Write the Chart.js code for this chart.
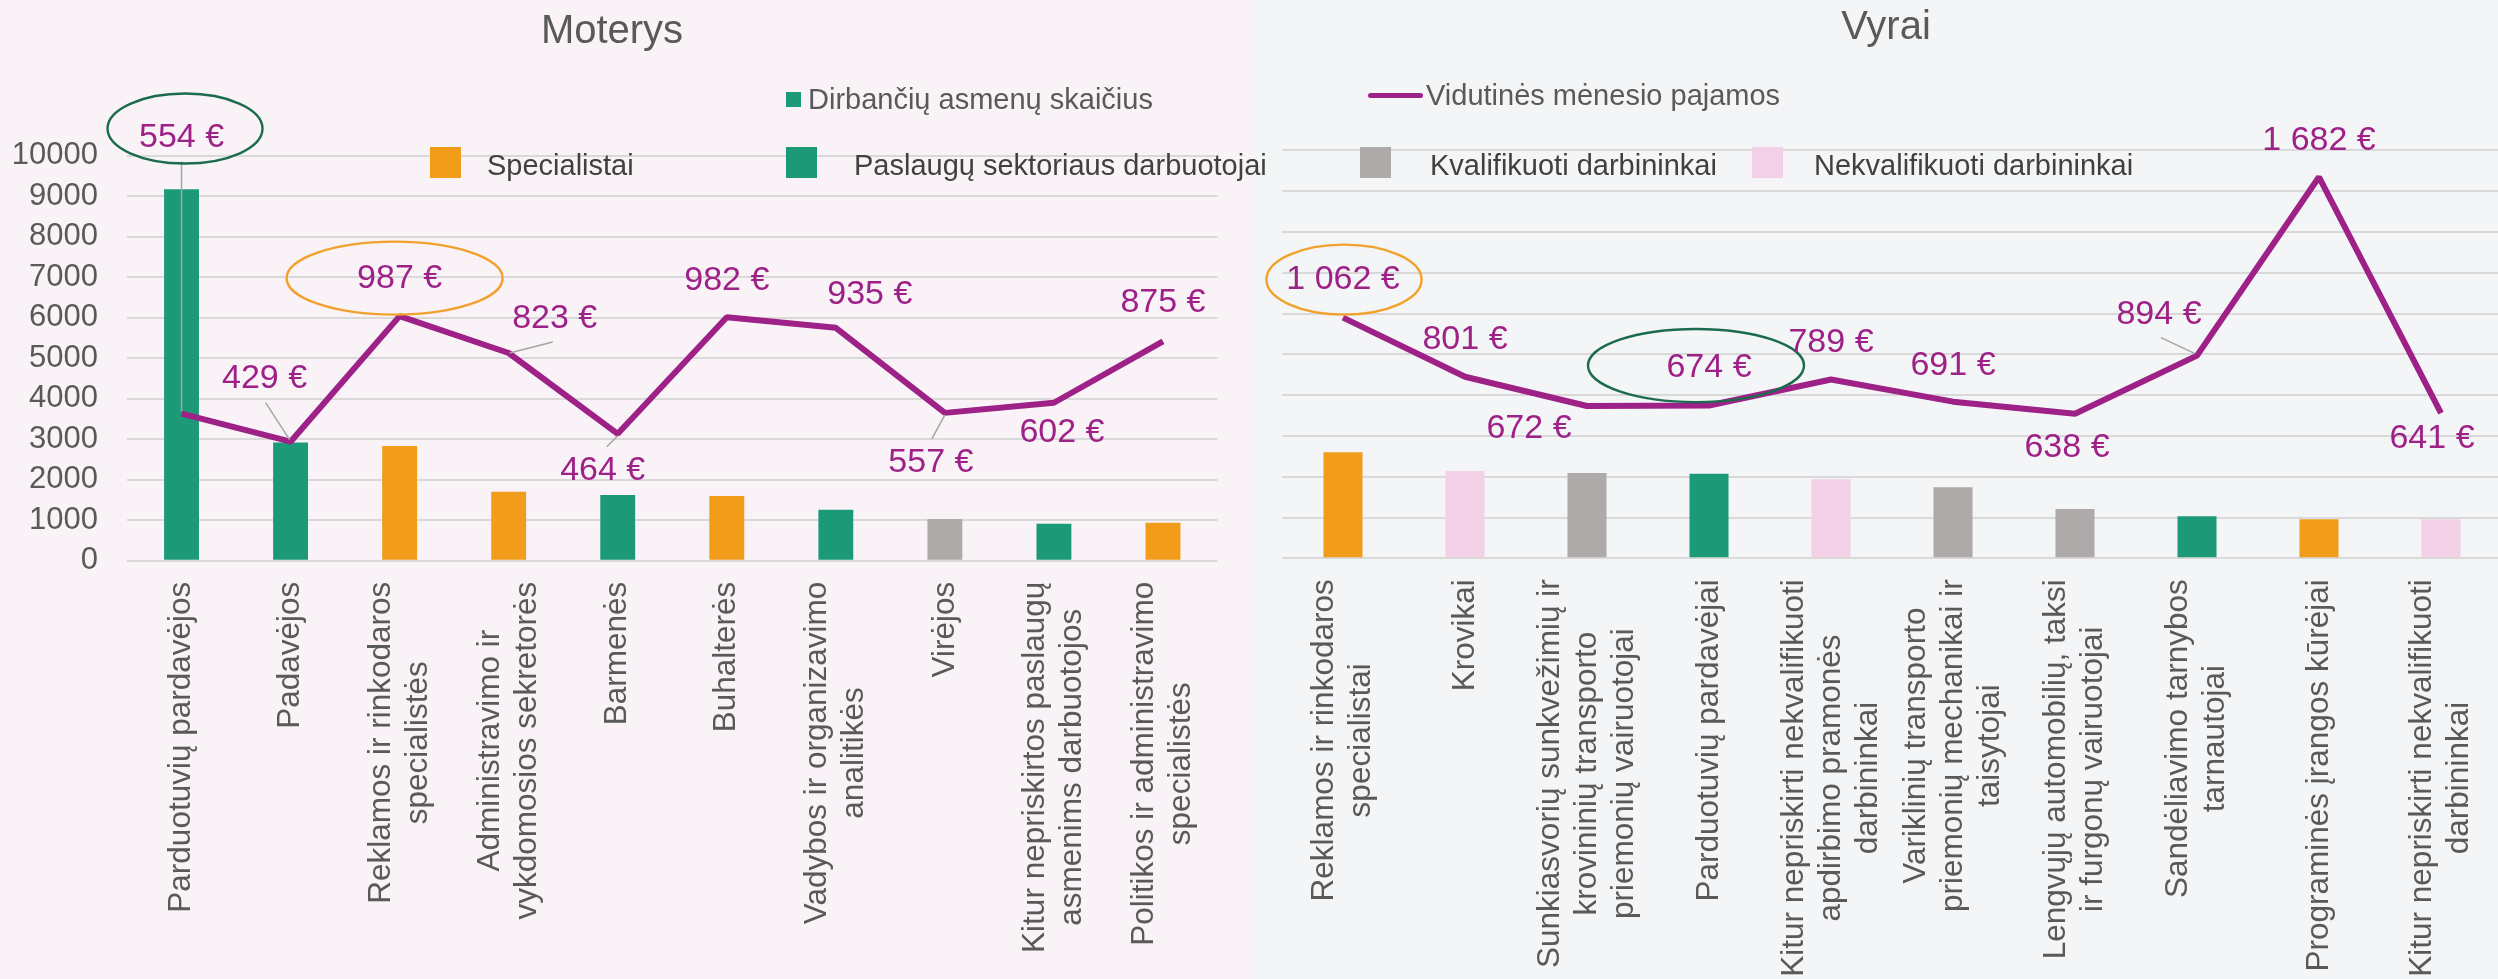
<!DOCTYPE html>
<html>
<head>
<meta charset="utf-8">
<script src="https://cdn.jsdelivr.net/npm/chart.js@4/dist/chart.umd.min.js"></script>
<style>
  html, body { margin: 0; padding: 0; width: 2498px; height: 979px; overflow: hidden; }
  body { position: relative; font-family: 'Liberation Sans', Arial, sans-serif; }
  .panel { position: absolute; top: 0; height: 979px; overflow: hidden; }
  #left { left: 0; width: 1251px; background: #f9f3f8; }
  #right { left: 1251px; width: 1247px; background: #f4f5f7; }
  canvas { position: absolute; left: 0; top: 0; }
  .txt { position: absolute; white-space: nowrap; line-height: 1; }
  .title { font-size: 40px; color: #595959; transform: translateX(-50%); }
  .leg { font-size: 29px; color: #404040; }
  .leg.top { color: #595959; }
  .sw { position: absolute; }
</style>
</head>
<body>
<div id="left" class="panel"><canvas id="cWomen" width="1251" height="979"></canvas></div>
<div id="right" class="panel"><canvas id="cMen" width="1270" height="979"></canvas></div>

<div class="txt title" style="left:612px; top:9px;">Moterys</div>
<div class="txt title" style="left:1886px; top:5px;">Vyrai</div>

<div class="sw" style="left:786px; top:92px; width:15px; height:15px; background:#1c9a77;"></div>
<div class="txt leg top" style="left:808px; top:85px;">Dirbančių asmenų skaičius</div>
<div class="sw" style="left:1368px; top:93px; width:55px; height:5px; border-radius:3px; background:#9e2187;"></div>
<div class="txt leg top" style="left:1426px; top:81px;">Vidutinės mėnesio pajamos</div>

<div class="sw" style="left:430px; top:147px; width:31px; height:31px; background:#f19c1b;"></div>
<div class="txt leg" style="left:487px; top:151px;">Specialistai</div>
<div class="sw" style="left:786px; top:147px; width:31px; height:31px; background:#1c9a77;"></div>
<div class="txt leg" style="left:854px; top:151px;">Paslaugų sektoriaus darbuotojai</div>
<div class="sw" style="left:1360px; top:147px; width:31px; height:31px; background:#aeaaa9;"></div>
<div class="txt leg" style="left:1430px; top:151px;">Kvalifikuoti darbininkai</div>
<div class="sw" style="left:1752px; top:147px; width:31px; height:31px; background:#f2d1e7;"></div>
<div class="txt leg" style="left:1814px; top:151px;">Nekvalifikuoti darbininkai</div>

<script>
// ---- duomenys ----
const groups = ['Specialistai', 'Paslaugų sektoriaus darbuotojai', 'Kvalifikuoti darbininkai', 'Nekvalifikuoti darbininkai'];

const womenJobs = [
  'Parduotuvių pardavėjos',
  'Padavėjos',
  ['Reklamos ir rinkodaros', 'specialistės'],
  ['Administravimo ir', 'vykdomosios sekretorės'],
  'Barmenės',
  'Buhalterės',
  ['Vadybos ir organizavimo', 'analitikės'],
  'Virėjos',
  ['Kitur nepriskirtos paslaugų', 'asmenims darbuotojos'],
  ['Politikos ir administravimo', 'specialistės']
];
const womenCount = [9170, 2920, 2830, 1700, 1620, 1600, 1260, 1030, 910, 940];
const womenIncome = [554, 429, 987, 823, 464, 982, 935, 557, 602, 875];
const womenGroup = [1, 1, 0, 0, 1, 0, 1, 2, 1, 0];

const menJobs = [
  ['Reklamos ir rinkodaros', 'specialistai'],
  'Krovikai',
  ['Sunkiasvorių sunkvežimių ir', 'krovininių transporto', 'priemonių vairuotojai'],
  'Parduotuvių pardavėjai',
  ['Kitur nepriskirti nekvalifikuoti', 'apdirbimo pramonės', 'darbininkai'],
  ['Variklinių transporto', 'priemonių mechanikai ir', 'taisytojai'],
  ['Lengvųjų automobilių, taksi', 'ir furgonų vairuotojai'],
  ['Sandėliavimo tarnybos', 'tarnautojai'],
  'Programinės įrangos kūrėjai',
  ['Kitur nepriskirti nekvalifikuoti', 'darbininkai']
];
const menCount = [2600, 2140, 2090, 2070, 1940, 1740, 1210, 1030, 960, 960];
const menIncome = [1062, 801, 672, 674, 789, 691, 638, 894, 1682, 641];
const menGroup = [0, 3, 2, 1, 3, 2, 2, 1, 0, 3];

const countTicks = [0, 1000, 2000, 3000, 4000, 5000, 6000, 7000, 8000, 9000, 10000];

// ---- stilius ----
const FONT = "'Liberation Sans', Arial, sans-serif";
const groupColors = ['#f19c1b', '#1c9a77', '#aeaaa9', '#f2d1e7'];
const PURPLE = '#9e2187';
const RING_ORANGE = '#f1a12c';
const RING_GREEN = '#1b6b4d';

// etikečių poslinkiai nuo taško (px)
const womenLabelPos = [[0, -276], [-26, -63], [0, -38], [46, -34], [-15, 37], [0, -37], [34, -33], [-14, 50], [8, 30], [0, -39]];
const womenLeaders = { 0: [0, -2, 0, -252], 1: [-1, -2, -25, -39], 3: [1, 0, 44, -11], 4: [0, 2, -11, 13], 7: [0, 2, -13, 26] };
const womenRings = [
  { i: 0, dx: 3.5, dy: -285, rx: 77.5, ry: 35, color: RING_GREEN },
  { i: 2, dx: -5, dy: -38, rx: 108, ry: 36.5, color: RING_ORANGE }
];

const menLabelPos = [[0, -38], [0, -37], [-58, 23], [0, -38], [0, -37], [0, -36], [-8, 34], [-38, -41], [0, -36], [-9, 26]];
const menLeaders = { 7: [-2, -2, -36, -18] };
const menRings = [
  { i: 0, dx: 1, dy: -38, rx: 77.6, ry: 35, color: RING_ORANGE },
  { i: 3, dx: -13, dy: -40, rx: 108, ry: 36.6, color: RING_GREEN }
];

const eur = (v) => {
  const s = v >= 1000 ? Math.floor(v / 1000) + ' ' + String(v % 1000).padStart(3, '0') : String(v);
  return s + ' €';
};

// etiketės, rodyklės, ovalai ir pasukti kategorijų pavadinimai
function makeAnnot(cfg) {
  return {
    id: 'annot',
    afterDatasetsDraw(chart) {
      const ctx = chart.ctx;
      const pts = chart.getDatasetMeta(1).data;
      ctx.save();
      ctx.strokeStyle = '#a5a5a5';
      ctx.lineWidth = 1.5;
      Object.keys(cfg.leaders).forEach((k) => {
        const p = pts[k], l = cfg.leaders[k];
        ctx.beginPath();
        ctx.moveTo(p.x + l[0], p.y + l[1]);
        ctx.lineTo(p.x + l[2], p.y + l[3]);
        ctx.stroke();
      });
      cfg.rings.forEach((r) => {
        const p = pts[r.i];
        ctx.beginPath();
        ctx.ellipse(p.x + r.dx, p.y + r.dy, r.rx, r.ry, 0, 0, Math.PI * 2);
        ctx.strokeStyle = r.color;
        ctx.lineWidth = 2.4;
        ctx.stroke();
      });
      ctx.fillStyle = PURPLE;
      ctx.font = '34px ' + FONT;
      ctx.textAlign = 'center';
      ctx.textBaseline = 'middle';
      pts.forEach((p, i) => {
        const o = cfg.labelPos[i];
        ctx.fillText(eur(cfg.income[i]), p.x + o[0], p.y + o[1]);
      });
      ctx.restore();
    },
    afterDraw(chart) {
      const ctx = chart.ctx;
      const xs = chart.scales.x;
      const top = chart.chartArea.bottom + 21;
      const lh = 37;
      ctx.save();
      ctx.fillStyle = '#595959';
      ctx.font = '31.5px ' + FONT;
      ctx.textAlign = 'center';
      ctx.textBaseline = 'middle';
      cfg.jobs.forEach((lab, i) => {
        const lines = Array.isArray(lab) ? lab : [lab];
        const w = Math.max(...lines.map((t) => ctx.measureText(t).width));
        const cx = xs.getPixelForValue(i);
        const cy = top + w / 2;
        lines.forEach((t, j) => {
          ctx.save();
          ctx.translate(cx + (j - (lines.length - 1) / 2) * lh, cy);
          ctx.rotate(-Math.PI / 2);
          ctx.fillText(t, 0, 0);
          ctx.restore();
        });
      });
      ctx.restore();
    }
  };
}

function buildChart(id, o) {
  const el = document.getElementById(id);
  return new Chart(el.getContext('2d'), {
    data: {
      labels: o.jobs.map((j, i) => i),
      datasets: [
        {
          type: 'bar',
          label: 'Dirbančių asmenų skaičius',
          data: o.count,
          backgroundColor: o.group.map((g) => groupColors[g]),
          categoryPercentage: 1,
          barPercentage: 0.32,
          yAxisID: 'y',
          order: 2
        },
        {
          type: 'line',
          label: 'Vidutinės mėnesio pajamos',
          data: o.income,
          borderColor: PURPLE,
          borderWidth: 6,
          borderJoinStyle: 'bevel',
          pointRadius: 0,
          tension: 0,
          yAxisID: 'y2',
          order: 1
        }
      ]
    },
    options: {
      responsive: false,
      animation: false,
      events: [],
      layout: { padding: o.padding },
      plugins: { legend: { display: false }, tooltip: { enabled: false } },
      scales: {
        x: {
          grid: { display: false },
          border: { display: false },
          ticks: { display: false },
          afterFit: (s) => { s.height = 0; }
        },
        y: {
          min: 0,
          max: 10000,
          afterBuildTicks: (s) => { s.ticks = countTicks.map((v) => ({ value: v })); },
          border: { display: false },
          grid: { color: '#d9d9d9', lineWidth: 2, drawTicks: false },
          ticks: {
            display: o.showTicks,
            color: '#595959',
            font: { size: 31, family: FONT },
            padding: 29,
            callback: (v) => String(v)
          },
          afterFit: (s) => { s.width = o.axisWidth; }
        },
        y2: { display: false, min: o.incomeRange[0], max: o.incomeRange[1] }
      }
    },
    plugins: [makeAnnot({ jobs: o.jobs, income: o.income, labelPos: o.labelPos, leaders: o.leaders, rings: o.rings })]
  });
}

buildChart('cWomen', {
  jobs: womenJobs, count: womenCount, income: womenIncome, group: womenGroup,
  labelPos: womenLabelPos, leaders: womenLeaders, rings: womenRings,
  incomeRange: [-100, 1700], showTicks: true, axisWidth: 127,
  padding: { left: 0, top: 155.7, right: 33.5, bottom: 418.3 }
});

buildChart('cMen', {
  jobs: menJobs, count: menCount, income: menIncome, group: menGroup,
  labelPos: menLabelPos, leaders: menLeaders, rings: menRings,
  incomeRange: [0, 1800], showTicks: false, axisWidth: 0,
  padding: { left: 31, top: 150.3, right: 19, bottom: 420.7 }
});
</script>
</body>
</html>
